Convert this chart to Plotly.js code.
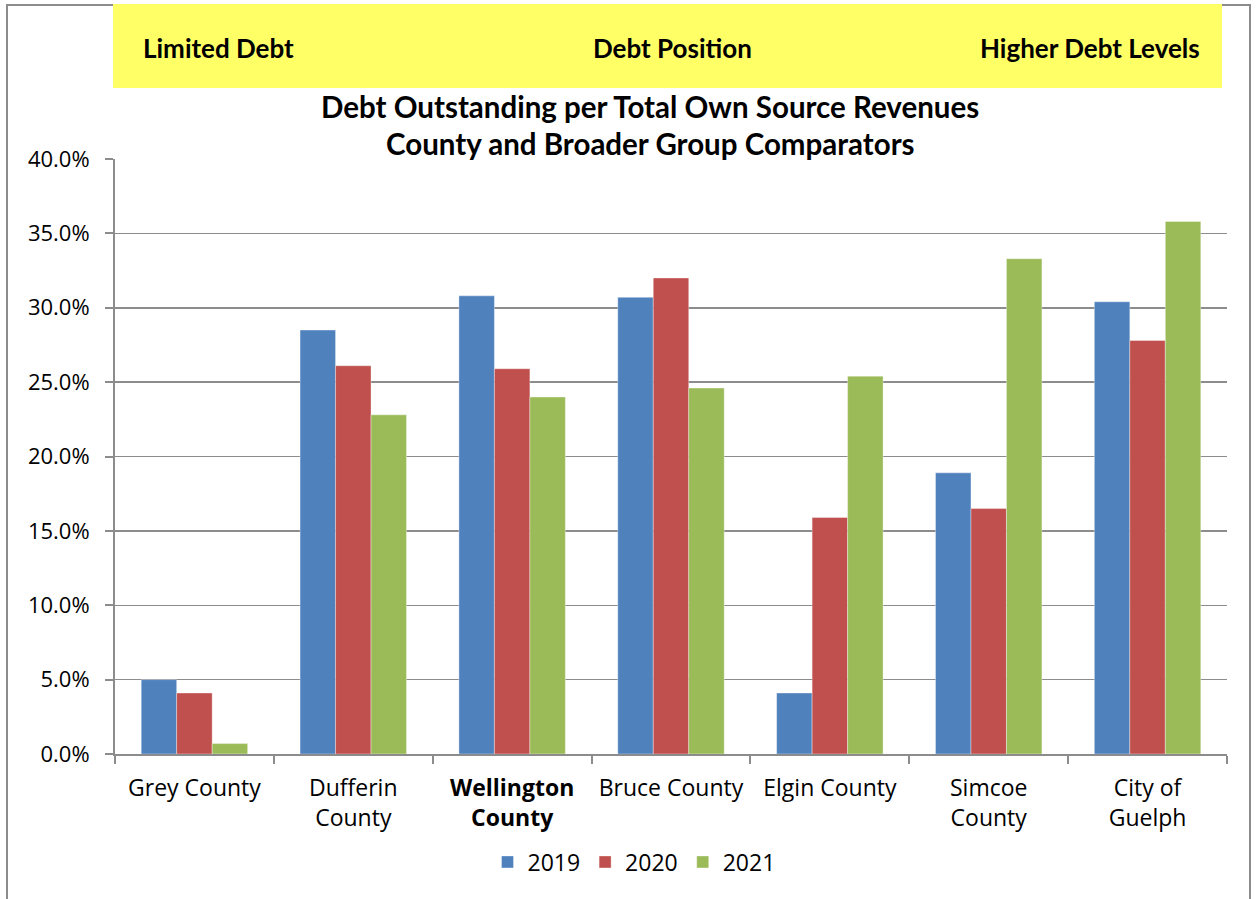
<!DOCTYPE html>
<html>
<head>
<meta charset="utf-8">
<script src="https://cdn.plot.ly/plotly-3.0.1.min.js"></script>
<style>
html,body{margin:0;padding:0;background:#fff;}
#chart{width:1257px;height:899px;}
</style>
</head>
<body>
<div id="chart"></div>
<script>
const categories = ["Grey County", "Dufferin<br>County", "<b>Wellington<br>County</b>", "Bruce County", "Elgin County", "Simcoe<br>County", "City of<br>Guelph"];
const seriesNames = ["2019", "2020", "2021"];
const values2019 = [5.0, 28.5, 30.8, 30.7, 4.1, 18.9, 30.4];
const values2020 = [4.1, 26.1, 25.9, 32.0, 15.9, 16.5, 27.8];
const values2021 = [0.7, 22.8, 24.0, 24.6, 25.4, 33.3, 35.8];
const yTickVals = [0, 5, 10, 15, 20, 25, 30, 35, 40];
const yTickText = ["0.0%", "5.0%", "10.0%", "15.0%", "20.0%", "25.0%", "30.0%", "35.0%", "40.0%"];
const bannerLabels = ["Limited Debt", "Debt Position", "Higher Debt Levels"];
const titleLines = ["Debt Outstanding per Total Own Source Revenues", "County and Broader Group Comparators"];

const colors = ["#4F81BD", "#C0504D", "#9BBB59"];
const allValues = [values2019, values2020, values2021];

const W = 1257, H = 899;
const L = 115, R = 30, T = 159, B = 145;
const pw = W - L - R, ph = H - T - B;
const px = x => (x - L) / pw;
const py = y => (H - B - y) / ph;

const tickFontFam = "'Open Sans', sans-serif";
const boldFont = "Lato, 'Open Sans', sans-serif";

const traces = seriesNames.map((name, i) => ({
  type: "bar",
  name: name,
  x: categories,
  y: allValues[i],
  marker: {color: colors[i], line: {color: "rgba(255,255,255,0.6)", width: 0.6}},
  hoverinfo: "none"
}));

const layout = {
  width: W, height: H,
  margin: {l: L, r: R, t: T, b: B, pad: 0},
  paper_bgcolor: "#ffffff",
  plot_bgcolor: "#ffffff",
  font: {family: tickFontFam, size: 22, color: "#000"},
  barmode: "group",
  bargap: 0.33,
  bargroupgap: 0,
  showlegend: true,
  legend: {
    orientation: "h", x: px(634), xanchor: "center", y: py(862), yanchor: "middle",
    font: {family: tickFontFam, size: 23, color: "#000"},
    itemwidth: 30, tracegroupgap: 0, bgcolor: "rgba(0,0,0,0)"
  },
  xaxis: {
    type: "category",
    showline: true, linecolor: "#8c8c8c", linewidth: 2,
    ticks: "outside", ticklen: 8, tickcolor: "#8c8c8c", tickwidth: 2,
    tickson: "boundaries",
    ticklabelstandoff: 12,
    tickfont: {family: tickFontFam, size: 23, color: "#000"},
    showgrid: false, zeroline: false, fixedrange: true
  },
  yaxis: {
    range: [0, 40],
    tickvals: yTickVals, ticktext: yTickText,
    showline: true, linecolor: "#8c8c8c", linewidth: 2,
    ticks: "outside", ticklen: 8, tickcolor: "#8c8c8c", tickwidth: 2,
    ticklabelstandoff: 11,
    tickfont: {family: tickFontFam, size: 22, color: "#000"},
    showgrid: true, gridcolor: "#8c8c8c", gridwidth: 1.5,
    zeroline: false, fixedrange: true
  },
  shapes: [
    {type: "rect", xref: "paper", yref: "paper", x0: px(7), x1: px(1250), y0: py(910), y1: py(5),
     line: {color: "#8c8c8c", width: 2}, fillcolor: "rgba(0,0,0,0)", layer: "below"},
    {type: "rect", xref: "paper", yref: "paper", x0: px(113), x1: px(1222), y0: py(88), y1: py(4),
     line: {width: 0}, fillcolor: "#FFFF66", layer: "above"}
  ],
  annotations: [
    {xref: "paper", yref: "paper", x: px(141), xanchor: "left", y: py(48), yanchor: "middle", showarrow: false,
     text: "<b>" + bannerLabels[0] + "</b>", font: {family: boldFont, size: 26, color: "#000"}},
    {xref: "paper", yref: "paper", x: px(672), xanchor: "center", y: py(48), yanchor: "middle", showarrow: false,
     text: "<b>" + bannerLabels[1] + "</b>", font: {family: boldFont, size: 26, color: "#000"}},
    {xref: "paper", yref: "paper", x: px(1202), xanchor: "right", y: py(48), yanchor: "middle", showarrow: false,
     text: "<b>" + bannerLabels[2] + "</b>", font: {family: boldFont, size: 26, color: "#000"}},
    {xref: "paper", yref: "paper", x: px(650), xanchor: "center", y: py(106), yanchor: "middle", showarrow: false,
     text: "<b>" + titleLines[0] + "</b>", font: {family: boldFont, size: 29.5, color: "#000"}},
    {xref: "paper", yref: "paper", x: px(650), xanchor: "center", y: py(143), yanchor: "middle", showarrow: false,
     text: "<b>" + titleLines[1] + "</b>", font: {family: boldFont, size: 29.5, color: "#000"}}
  ]
};

Plotly.newPlot("chart", traces, layout, {displayModeBar: false, staticPlot: true});
</script>
</body>
</html>
